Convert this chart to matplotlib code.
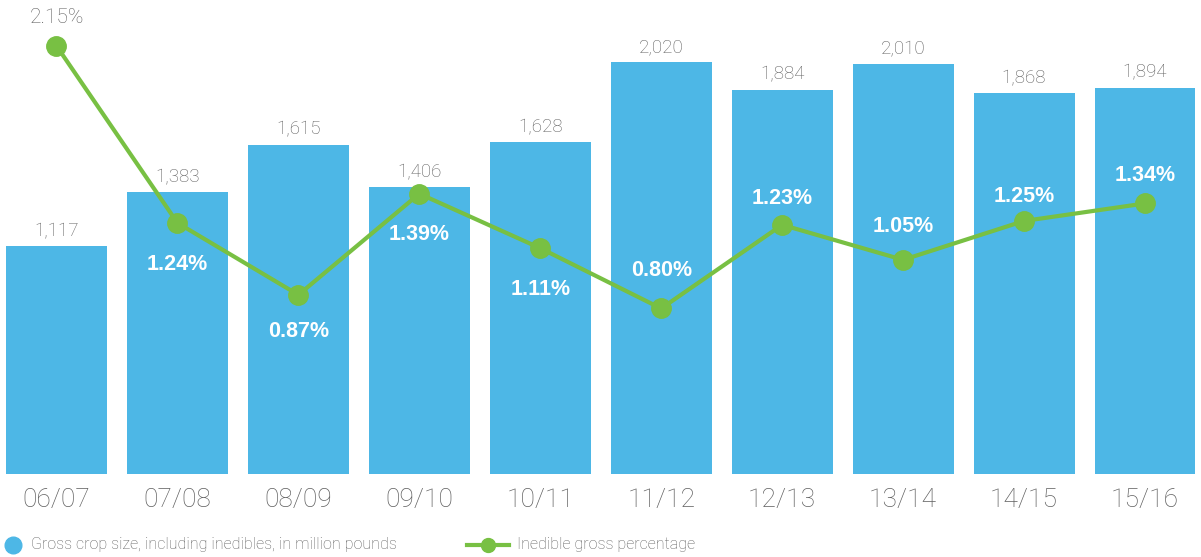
import matplotlib.pyplot as plt
from matplotlib.lines import Line2D

years = ['06/07', '07/08', '08/09', '09/10', '10/11', '11/12', '12/13', '13/14', '14/15', '15/16']
crop_size = [1117, 1383, 1615, 1406, 1628, 2020, 1884, 2010, 1868, 1894]
inedible_pct = [2.15, 1.24, 0.87, 1.39, 1.11, 0.80, 1.23, 1.05, 1.25, 1.34]

# label placement: pixel offset from point centre to label centre (+ above, - below)
pct_label_offset = [30, -39, -34, -38, -39, 40, 29, 36, 27, 30]

BLUE = '#4db7e6'
GREEN = '#78c043'
GREY = '#5f5f5f'
LIGHT = dict(family='Roboto', weight='light')

fig = plt.figure(figsize=(12.01, 5.57), dpi=100)
ax = fig.add_axes([0, 0.149, 1, 0.851])
x = list(range(len(years)))

ax.bar(x, crop_size, width=0.835, color=BLUE, zorder=1)
ax.set_xlim(-0.467, 9.463)
ax.set_ylim(0, 2324)
for xi, v in zip(x, crop_size):
    ax.annotate(f'{v:,}', (xi, v), xytext=(0, 10), textcoords='offset pixels',
                ha='center', va='baseline', fontsize=13.5, color=GREY, **LIGHT)

for s in ax.spines.values():
    s.set_visible(False)
ax.set_yticks([])
ax.set_xticks(x)
ax.set_xticklabels(years, fontsize=19, color=GREY, **LIGHT)
ax.tick_params(axis='x', length=0, pad=10)

ax2 = ax.twinx()
ax2.set_ylim(-0.051, 2.386)
ax2.plot(x, inedible_pct, color=GREEN, lw=3, marker='o', ms=14, zorder=3)
ax2.set_yticks([])
for s in ax2.spines.values():
    s.set_visible(False)

for i, (xi, v, off) in enumerate(zip(x, inedible_pct, pct_label_offset)):
    label = f'{v:.2f}%'
    if i == 0:
        # first point sits above the bars, so its label is plain grey
        ax2.annotate(label, (xi, v), xytext=(0, off), textcoords='offset pixels',
                     ha='center', va='center_baseline', fontsize=15, color=GREY, **LIGHT)
    else:
        ax2.annotate(label, (xi, v), xytext=(0, off), textcoords='offset pixels',
                     ha='center', va='center_baseline', fontsize=15.5, color='white',
                     family='Liberation Sans', weight='bold')

# legend along the bottom edge
ly = 0.022
fig.add_artist(Line2D([0.0108], [ly], color=BLUE, marker='o', ms=12, lw=0,
                      transform=fig.transFigure))
fig.text(0.0255, ly, 'Gross crop size, including inedibles, in million pounds',
         fontsize=11.5, color=GREY, va='center', **LIGHT)
fig.add_artist(Line2D([0.389, 0.424], [ly, ly], color=GREEN, lw=3,
                      transform=fig.transFigure))
fig.add_artist(Line2D([0.4065], [ly], color=GREEN, marker='o', ms=10,
                      transform=fig.transFigure))
fig.text(0.4305, ly, 'Inedible gross percentage',
         fontsize=11.5, color=GREY, va='center', **LIGHT)

fig.savefig('out.png', dpi=100)
